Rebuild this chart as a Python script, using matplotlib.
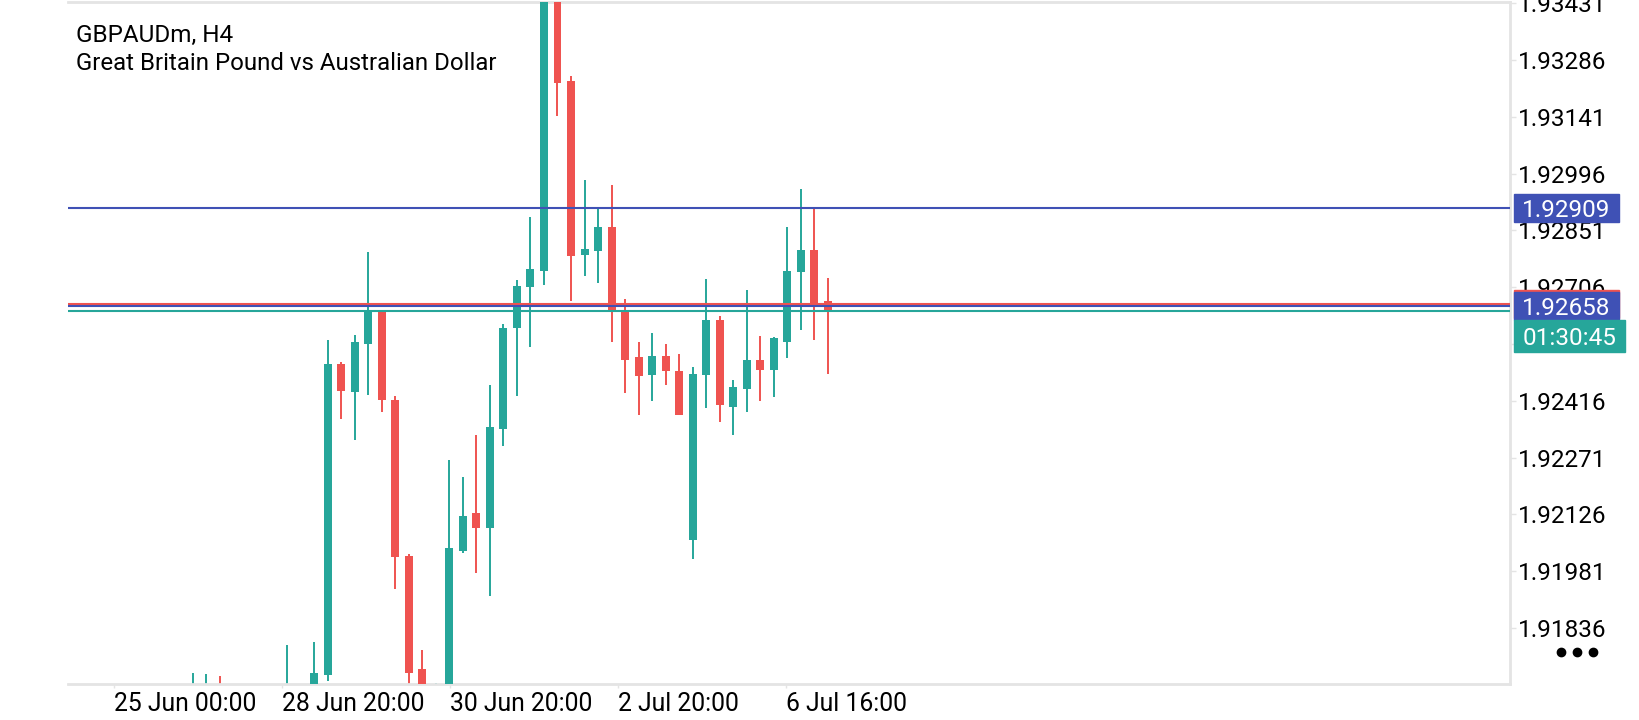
import matplotlib
matplotlib.use("Agg")
import matplotlib.pyplot as plt
from matplotlib.patches import Rectangle
from matplotlib.lines import Line2D

plt.rcParams["font.family"] = ["Roboto", "DejaVu Sans"]

# GBPAUDm H4 candles, oldest first (bar 0 is the first one near "25 Jun")
opens = [1.91655, 1.91670, 1.91690, 1.91640, 1.91580, 1.91620, 1.91600, 1.91650,
         1.91670, 1.91620, 1.91715, 1.92510, 1.92438, 1.92560, 1.92649, 1.92418,
         1.92020, 1.91730, 1.91640, 1.91670, 1.92033, 1.92129, 1.92092, 1.92345,
         1.92601, 1.92707, 1.92748, 1.93465, 1.93233, 1.92789, 1.92798, 1.92859,
         1.92649, 1.92527, 1.92481, 1.92530, 1.92491, 1.92060, 1.92483, 1.92622,
         1.92401, 1.92447, 1.92519, 1.92495, 1.92565, 1.92745, 1.92800, 1.92672]
highs = [1.91721, 1.91719, 1.91713, 1.91680, 1.91640, 1.91660, 1.91670, 1.91793,
         1.91685, 1.91800, 1.92570, 1.92515, 1.92585, 1.92795, 1.92649, 1.92427,
         1.92024, 1.91780, 1.91696, 1.92264, 1.92221, 1.92329, 1.92455, 1.92613,
         1.92725, 1.92885, 1.93500, 1.93490, 1.93245, 1.92980, 1.92911, 1.92967,
         1.92676, 1.92565, 1.92588, 1.92560, 1.92536, 1.92502, 1.92727, 1.92632,
         1.92469, 1.92700, 1.92581, 1.92579, 1.92860, 1.92956, 1.92911, 1.92729]
lows = [1.91630, 1.91640, 1.91610, 1.91560, 1.91540, 1.91570, 1.91580, 1.91630,
        1.91600, 1.91600, 1.91700, 1.92370, 1.92315, 1.92430, 1.92388, 1.91935,
        1.91680, 1.91600, 1.91600, 1.91650, 1.92027, 1.91977, 1.91918, 1.92300,
        1.92429, 1.92553, 1.92712, 1.93143, 1.92672, 1.92734, 1.92716, 1.92565,
        1.92436, 1.92380, 1.92416, 1.92455, 1.92380, 1.92013, 1.92397, 1.92363,
        1.92328, 1.92388, 1.92416, 1.92425, 1.92525, 1.92596, 1.92570, 1.92485]
closes = [1.91690, 1.91690, 1.91640, 1.91580, 1.91620, 1.91600, 1.91650, 1.91670,
          1.91620, 1.91721, 1.92511, 1.92441, 1.92565, 1.92649, 1.92418, 1.92016,
          1.91722, 1.91640, 1.91670, 1.92041, 1.92123, 1.92090, 1.92348, 1.92601,
          1.92708, 1.92752, 1.93470, 1.93228, 1.92786, 1.92803, 1.92859, 1.92643,
          1.92520, 1.92480, 1.92530, 1.92492, 1.92380, 1.92485, 1.92622, 1.92405,
          1.92451, 1.92519, 1.92495, 1.92576, 1.92748, 1.92800, 1.92666, 1.92643]

level_price = 1.92909   # drawn level line
ask_price = 1.92664
bid_price = 1.92658
last_price = 1.92645
timer_text = "01:30:45"

ytick_values = [1.93431, 1.93286, 1.93141, 1.92996, 1.92851, 1.92706,
                1.92561, 1.92416, 1.92271, 1.92126, 1.91981, 1.91836]
xtick_labels = ["25 Jun 00:00", "28 Jun 20:00", "30 Jun 20:00",
                "2 Jul 20:00", "6 Jul 16:00"]

UP = "#26a69a"
DOWN = "#ef5350"
BLUE = "#3f51b5"
GRID = "#e4e4e4"
W, H = 1640, 720

fig = plt.figure(figsize=(W / 100, H / 100), dpi=100)
# plot area in pixels: x 68..1510, y 2..684 (from top)
ax = fig.add_axes([68 / W, 1 - 684 / H, (1510 - 68) / W, (684 - 2) / H])

# candles
for i, (o, h, l, c) in enumerate(zip(opens, highs, lows, closes)):
    col = UP if c >= o else DOWN
    ax.vlines(i, l, h, color=col, linewidth=1.4, zorder=2)
    ax.bar(i, abs(c - o), bottom=min(o, c), width=0.59, color=col,
           linewidth=0, zorder=3)

# price lines
ax.axhline(level_price, color=BLUE, linewidth=1.5, zorder=4)
ax.axhline(ask_price, color=DOWN, linewidth=1.5, zorder=4)
ax.axhline(bid_price, color=BLUE, linewidth=1.5, zorder=4)
ax.axhline(last_price, color=UP, linewidth=1.5, zorder=4)

ax.set_xlim(-9.23, 97.5)
ax.set_ylim(1.916929, 1.934341)

# axes look
for side in ("top", "bottom", "right"):
    ax.spines[side].set_color(GRID)
    ax.spines[side].set_linewidth(2)
ax.spines["left"].set_visible(False)

ax.yaxis.tick_right()
ax.set_yticks(ytick_values, [f"{v:.5f}" for v in ytick_values])
ax.tick_params(axis="y", length=4.3, width=1, color=GRID, pad=1.5,
               labelsize=17.5, labelcolor="black")

ax.set_xticks([-5.83, 6.64, 19.03, 31.49, 43.88], xtick_labels)
ax.tick_params(axis="x", length=3, width=1, color=GRID, pad=2.5,
               labelsize=17.8, labelcolor="black")
for lab in ax.get_xticklabels():
    lab.set_ha("left")

# symbol name
fig.text(76 / W, 1 - 41.5 / H, "GBPAUDm, H4", fontsize=17.5, va="baseline")
fig.text(76 / W, 1 - 70 / H, "Great Britain Pound vs Australian Dollar",
         fontsize=17.3, va="baseline")


def price_box(price, text, color, x0=1514, x1=1619, h=28, top=None):
    """Draw a coloured label on the price scale; returns its bottom (px from top)."""
    yc = H - ax.transData.transform((0, price))[1]
    if top is None:
        top = yc - h / 2
    fig.add_artist(Rectangle((x0 / W, 1 - (top + h) / H), (x1 - x0) / W, h / H,
                             transform=fig.transFigure, color=color, zorder=5))
    if text:
        fig.text((x0 + x1) / 2 / W, 1 - (top + h / 2) / H, text, color="white",
                 fontsize=17.5, ha="center", va="center_baseline", zorder=6)
    return top + h


price_box(level_price, f"{level_price:.5f}", BLUE)
price_box(ask_price, "", DOWN)
bottom = price_box(bid_price, f"{bid_price:.5f}", BLUE)
price_box(bid_price, timer_text, UP, x1=1625, h=32, top=bottom)

# menu dots
fig.add_artist(Line2D([1561.5 / W, 1577.5 / W, 1593.5 / W], [1 - 652 / H] * 3,
                      transform=fig.transFigure, linestyle="none", marker="o",
                      markersize=6, color="black"))

fig.savefig("out.png", dpi=100)
